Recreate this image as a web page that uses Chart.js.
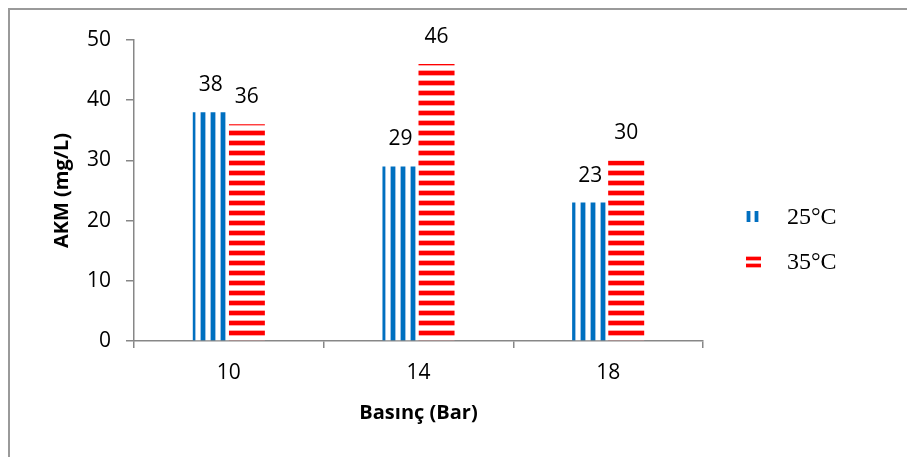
<!DOCTYPE html>
<html>
<head>
<meta charset="utf-8">
<script src="https://cdn.jsdelivr.net/npm/chart.js@4.4.1/dist/chart.umd.min.js"></script>
<style>
  html, body { margin: 0; padding: 0; background: #ffffff; }
  #wrap { width: 907px; height: 457px; position: relative; }
</style>
</head>
<body>
<div id="wrap"><canvas id="chart" width="907" height="457"></canvas></div>
<script>
// Suspended solids (AKM) at each operating pressure, for two temperatures
const categories = ['10', '14', '18'];
const seriesNames = ['25°C', '35°C'];
const values25 = [38, 29, 23];
const values35 = [36, 46, 30];
const yTicks = [0, 10, 20, 30, 40, 50];

const BLUE = '#0070C0', BLUE_SOFT = '#9DC3E6';
const RED = '#FF0000', RED_SOFT = '#FFA6A6';
const AXIS = '#878787';

// 10px repeating stripe tile: vertical stripes for 25°C, horizontal for 35°C
function stripePattern(vertical, dark, soft) {
  const t = document.createElement('canvas');
  t.width = 10; t.height = 10;
  const g = t.getContext('2d');
  g.fillStyle = '#ffffff'; g.fillRect(0, 0, 10, 10);
  const band = [[0, soft], [1, dark], [2, dark], [3, dark], [4, dark], [5, soft]];
  band.forEach(([i, col]) => {
    g.fillStyle = col;
    if (vertical) g.fillRect(i, 0, 1, 10); else g.fillRect(0, i, 10, 1);
  });
  const ctx = document.createElement('canvas').getContext('2d');
  return ctx.createPattern(t, 'repeat');
}

const fill25 = stripePattern(true, BLUE, BLUE_SOFT);
const fill35 = stripePattern(false, RED, RED_SOFT);

const FONT = 'Open Sans';

// Light frame around the figure
const framePlugin = {
  id: 'frame',
  beforeDraw(chart) {
    const ctx = chart.ctx;
    ctx.save();
    ctx.strokeStyle = '#9a9a9a';
    ctx.lineWidth = 2;
    ctx.strokeRect(9, 9, chart.width + 20, chart.height + 20);
    ctx.restore();
  }
};

// Value printed above each bar
const valueLabels = {
  id: 'valueLabels',
  afterDatasetsDraw(chart) {
    const ctx = chart.ctx;
    ctx.save();
    ctx.font = `21px "${FONT}"`;
    ctx.fillStyle = '#000000';
    ctx.textAlign = 'center';
    ctx.textBaseline = 'middle';
    chart.data.datasets.forEach((ds, di) => {
      chart.getDatasetMeta(di).data.forEach((bar, i) => {
        ctx.fillText(String(ds.data[i]), bar.x, bar.y - 27);
      });
    });
    ctx.restore();
  }
};

// Legend on the right with small striped swatches
const stripedLegend = {
  id: 'stripedLegend',
  afterDraw(chart) {
    const ctx = chart.ctx;
    const a = chart.chartArea;
    const x0 = a.right + 43;
    const rows = [a.top + 177, a.top + 222];
    ctx.save();
    chart.data.datasets.forEach((ds, di) => {
      const cy = rows[di];
      if (di === 0) {
        [[0, BLUE_SOFT], [1, BLUE], [2, BLUE], [3, BLUE], [4, BLUE_SOFT],
         [8, BLUE_SOFT], [9, BLUE], [10, BLUE], [11, BLUE], [12, BLUE_SOFT]].forEach(([i, c]) => {
          ctx.fillStyle = c; ctx.fillRect(x0 + i, cy - 6, 1, 11);
        });
      } else {
        [[0, RED_SOFT], [1, RED], [2, RED], [3, RED], [4, RED_SOFT],
         [7, RED_SOFT], [8, RED], [9, RED], [10, RED], [11, RED_SOFT]].forEach(([i, c]) => {
          ctx.fillStyle = c; ctx.fillRect(x0, cy - 6 + i, 15, 1);
        });
      }
      ctx.fillStyle = '#000000';
      ctx.font = '24px "Liberation Serif"';
      ctx.textAlign = 'left';
      ctx.textBaseline = 'middle';
      ctx.fillText(ds.label, x0 + 41, cy + 1);
    });
    ctx.restore();
  }
};

new Chart(document.getElementById('chart'), {
  type: 'bar',
  data: {
    labels: categories,
    datasets: [
      { label: seriesNames[0], data: values25, backgroundColor: fill25, borderWidth: 0 },
      { label: seriesNames[1], data: values35, backgroundColor: fill35, borderWidth: 0 }
    ]
  },
  options: {
    responsive: false,
    animation: false,
    devicePixelRatio: 1,
    layout: { padding: { top: 40, right: 204, bottom: 0, left: 0 } },
    datasets: { bar: { categoryPercentage: 0.38, barPercentage: 1.0 } },
    plugins: { legend: { display: false }, tooltip: { enabled: false } },
    scales: {
      x: {
        grid: { drawOnChartArea: false, drawTicks: true, tickLength: 7, color: AXIS, lineWidth: 1.5, offset: true },
        border: { display: true, color: AXIS, width: 1.5 },
        ticks: { font: { family: FONT, size: 21 }, color: '#000000', padding: 12 },
        title: {
          display: true, text: 'Basınç (Bar)', color: '#000000',
          font: { family: FONT, size: 20, weight: 'bold' },
          padding: { top: 0, bottom: 32 }
        },
        afterFit(scale) { scale.height = 116; }
      },
      y: {
        min: yTicks[0], max: yTicks[yTicks.length - 1],
        afterBuildTicks(scale) { scale.ticks = yTicks.map(v => ({ value: v })); },
        grid: { drawOnChartArea: false, drawTicks: true, tickLength: 8, color: AXIS, lineWidth: 1.5 },
        border: { display: true, color: AXIS, width: 1.5 },
        ticks: { font: { family: FONT, size: 21 }, color: '#000000', padding: 15 },
        title: {
          display: true, text: 'AKM (mg/L)', color: '#000000',
          font: { family: FONT, size: 20, weight: 'bold' },
          padding: { top: 50, bottom: 0 }
        },
        afterFit(scale) { scale.width = 134; }
      }
    }
  },
  plugins: [framePlugin, valueLabels, stripedLegend]
});
</script>
</body>
</html>
